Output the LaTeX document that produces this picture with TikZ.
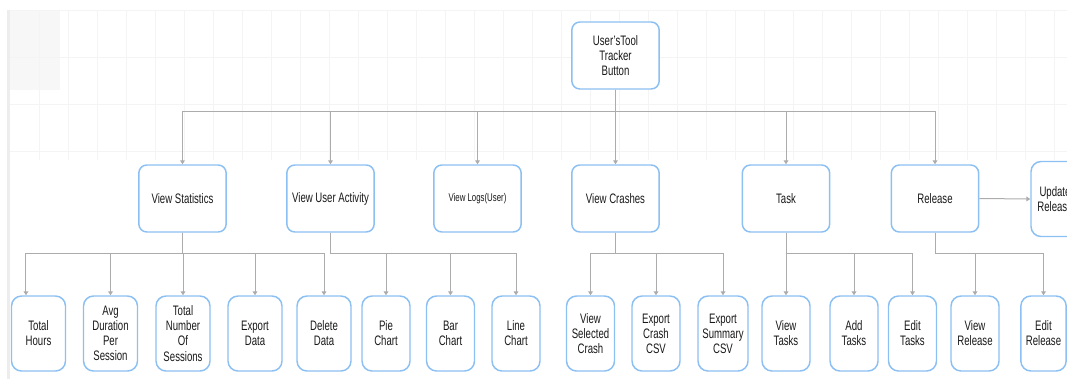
\documentclass[tikz,border=0pt]{standalone}
\usepackage{fontspec}
\setmainfont[FakeStretch=0.7]{Liberation Sans}
\usetikzlibrary{arrows.meta}
\definecolor{boxblue}{RGB}{140,192,242}
\definecolor{linegrey}{RGB}{172,172,172}
\definecolor{textgrey}{RGB}{25,25,25}
\definecolor{gridgrey}{RGB}{244,244,244}
\tikzset{top_box/.style={draw=boxblue, line width=1.1pt, rounded corners=6pt, fill=white, align=center, text=textgrey, inner sep=1pt, minimum width=65.5pt, minimum height=50.25pt, font=\fontsize{10.3pt}{11.3pt}\selectfont}}
\tikzset{leaf_box/.style={top_box, rounded corners=7.5pt, minimum width=36pt, minimum height=56.25pt}}
\tikzset{leaf_wide/.style={leaf_box, minimum width=40.5pt}}
\tikzset{edge_grey/.style={draw=linegrey, line width=0.75pt, -{Triangle[width=3.6pt,length=3pt]}}}

\begin{document}
\begin{tikzpicture}[x=0.75pt,y=-0.75pt]
    \useasboundingbox (0,0) rectangle (1067,379);
    \clip (0,0) rectangle (1067,379);
    % faint background grid
    \fill[black!3] (10,10) rectangle (60,90);
    \foreach \gx in {39,68,...,1067} \draw[gridgrey] (\gx,10) -- (\gx,160);
    \foreach \gy in {10,57,104,151} \draw[gridgrey] (10,\gy) -- (1067,\gy);
    \fill[black!7] (7,10) rectangle (10,379);
    % root and first level
    \node[top_box] (root) at (615.5,55.5) {User'sTool\\Tracker\\Button};
    \node[top_box] (stats) at (182.5,198.5) {View Statistics};
    \node[top_box] (act) at (330.5,198.5) {View User Activity};
    \node[top_box, font=\fontsize{8.4pt}{9.5pt}\selectfont] (logs) at (477.5,198.5) {View Logs(User)};
    \node[top_box] (crash) at (615.5,198.5) {View Crashes};
    \node[top_box] (task) at (786,198.5) {Task};
    \node[top_box] (rel) at (935,198.5) {Release};
    \node[leaf_box] (upd) at (1055,199) {Update\\Release};
    % second level
    \node[leaf_wide] (thrs) at (38.5,333.5) {Total\\Hours};
    \node[leaf_wide] (avg) at (110.5,333.5) {Avg\\Duration\\Per\\Session};
    \node[leaf_wide] (tnum) at (183,333.5) {Total\\Number\\Of\\Sessions};
    \node[leaf_wide] (expd) at (255,333.5) {Export\\Data};
    \node[leaf_wide] (deld) at (324,333.5) {Delete\\Data};
    \node[leaf_box] (pie) at (386,333.5) {Pie\\Chart};
    \node[leaf_box] (bar) at (450.5,333.5) {Bar\\Chart};
    \node[leaf_box] (line) at (516,333.5) {Line\\Chart};
    \node[leaf_box] (vsc) at (590.5,333.5) {View\\Selected\\Crash};
    \node[leaf_box] (ecc) at (656,333.5) {Export\\Crash\\CSV};
    \node[leaf_box, minimum width=37.5pt] (esc) at (723,333.5) {Export\\Summary\\CSV};
    \node[leaf_box] (vt) at (786,333.5) {View\\Tasks};
    \node[leaf_box] (at) at (854,333.5) {Add\\Tasks};
    \node[leaf_box] (et) at (912.5,333.5) {Edit\\Tasks};
    \node[leaf_box] (vr) at (975,333.5) {View\\Release};
    \node[leaf_box, minimum width=34pt] (er) at (1043.5,333.5) {Edit\\Release};
    % connectors
    \foreach \n in {stats,act,logs,crash,task,rel}
        \draw[edge_grey] (root.south) -- ++(0,22) -| (\n.north);
    \draw[edge_grey] (stats.south) -- ++(0,21) -| ([xshift=-9.4pt]thrs.north);
    \foreach \n in {avg,tnum,expd,deld}
        \draw[edge_grey] (stats.south) -- ++(0,21) -| (\n.north);
    \foreach \n in {pie,bar,line}
        \draw[edge_grey] (act.south) -- ++(0,21) -| (\n.north);
    \foreach \n in {vsc,ecc,esc}
        \draw[edge_grey] (crash.south) -- ++(0,21) -| (\n.north);
    \foreach \n in {vt,at,et}
        \draw[edge_grey] (task.south) -- ++(0,21) -| (\n.north);
    \foreach \n in {vr,er}
        \draw[edge_grey] (rel.south) -- ++(0,21) -| (\n.north);
    \draw[edge_grey] (rel.east) -- (upd.west);
\end{tikzpicture}
\end{document}
